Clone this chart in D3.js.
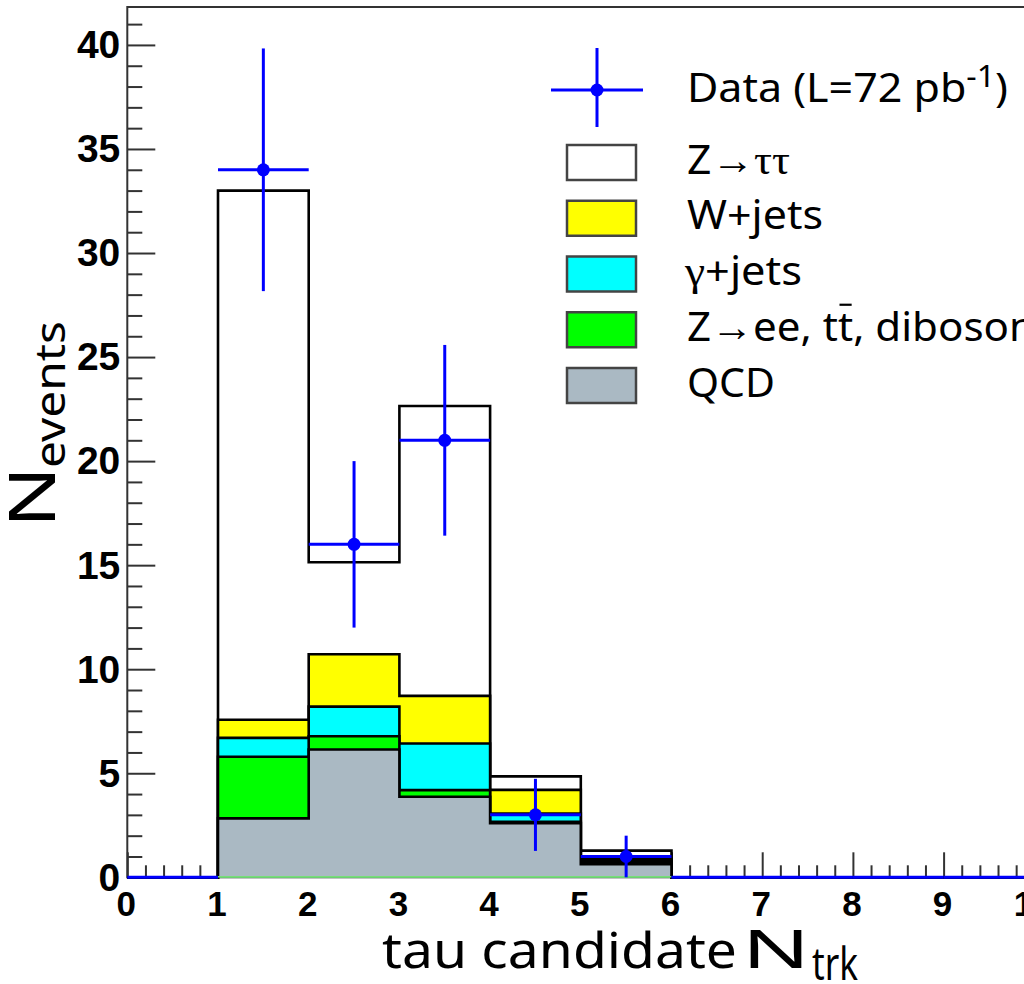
<!DOCTYPE html>
<html>
<head>
<meta charset="utf-8">
<script src="https://cdn.jsdelivr.net/npm/d3@7/dist/d3.min.js"></script>
<style>
  html, body { margin: 0; padding: 0; background: #fff; overflow: hidden; }
  svg { display: block; }
</style>
</head>
<body>
<svg id="chart" width="1024" height="984"></svg>
<script>
// ---- data: tau candidate track multiplicity, bins of width 1 from 0 to 10 ----
const binEdges = [0, 1, 2, 3, 4, 5, 6, 7, 8, 9, 10];
const qcd             = [0, 2.83, 6.14, 3.87, 2.60, 0.63, 0, 0, 0, 0];
const zeeTtbarDiboson = [0, 2.96, 0.64, 0.32, 0.07, 0.06, 0, 0, 0, 0];
const gammaJets       = [0, 0.91, 1.42, 2.24, 0.39, 0.08, 0, 0, 0, 0];
const wJets           = [0, 0.87, 2.52, 2.29, 1.14, 0.11, 0, 0, 0, 0];
const zTauTau         = [0, 25.43, 4.42, 13.93, 0.65, 0.40, 0, 0, 0, 0];
const dataCounts      = [0, 34, 16, 21, 3, 1, 0, 0, 0, 0];

const xTickLabels = [0, 1, 2, 3, 4, 5, 6, 7, 8, 9, 10];
const yTickLabels = [0, 5, 10, 15, 20, 25, 30, 35, 40];

// stacking order, bottom to top
const processKeys = ["qcd", "other", "gamma", "wjets", "ztt"];
const processColors = {
  qcd: "#aab9c3",
  other: "#00ff00",
  gamma: "#00ffff",
  wjets: "#ffff00",
  ztt: "#ffffff"
};

const rows = binEdges.slice(0, -1).map((lo, i) => ({
  lo: lo, hi: binEdges[i + 1],
  qcd: qcd[i], other: zeeTtbarDiboson[i], gamma: gammaJets[i],
  wjets: wJets[i], ztt: zTauTau[i], data: dataCounts[i]
}));

// y range: 5% headroom above the highest data error bar
const yMax = d3.max(rows, r => r.data + Math.sqrt(r.data)) * 1.05;

const svg = d3.select("#chart");
const x = d3.scaleLinear().domain([0, 10]).range([127.3, 1034.3]);
const y = d3.scaleLinear().domain([0, yMax]).range([877.3, 7]);

const AXIS_FONT = "'Liberation Sans', Arial, Helvetica, sans-serif";
const TEXT_FONT = "'Noto Sans', 'Open Sans', sans-serif";
const GREEK_FONT = "'Liberation Serif', 'DejaVu Serif', serif";

// ---- frame ----
svg.append("rect")
  .attr("x", x(0)).attr("y", y(yMax))
  .attr("width", x(10) - x(0)).attr("height", y(0) - y(yMax))
  .attr("fill", "none").attr("stroke", "#333").attr("stroke-width", 2);

// ---- axes (ticks point into the frame) ----
const yMinor = d3.range(0, Math.floor(yMax) + 1, 1).filter(v => v % 5 !== 0);
const xMinor = d3.range(0, 10.001, 0.2).map(v => +v.toFixed(1)).filter(v => Math.abs(v - Math.round(v)) > 1e-6);

function styleAxis(g, fontSize) {
  g.select(".domain").remove();
  g.selectAll(".tick line").attr("stroke", "#333").attr("stroke-width", 2);
  g.selectAll(".tick text")
    .attr("fill", "#000")
    .attr("font-family", AXIS_FONT)
    .attr("font-weight", "bold")
    .attr("font-size", fontSize);
}

svg.append("g")
  .attr("transform", `translate(${x(0)},0)`)
  .call(d3.axisLeft(y).tickValues(yMinor).tickSizeInner(-15).tickSizeOuter(0).tickFormat(""))
  .call(g => styleAxis(g, 39));

svg.append("g")
  .attr("transform", `translate(${x(0)},0)`)
  .call(d3.axisLeft(y).tickValues(yTickLabels).tickSizeInner(-28).tickSizeOuter(0).tickPadding(7).tickFormat(d3.format("d")))
  .call(g => styleAxis(g, 39))
  .call(g => g.selectAll(".tick text").attr("dy", "0.33em"));

svg.append("g")
  .attr("transform", `translate(0,${y(0)})`)
  .call(d3.axisBottom(x).tickValues(xMinor).tickSizeInner(-12).tickSizeOuter(0).tickFormat(""))
  .call(g => styleAxis(g, 35));

svg.append("g")
  .attr("transform", `translate(0,${y(0)})`)
  .call(d3.axisBottom(x).tickValues(xTickLabels).tickSizeInner(-25).tickSizeOuter(0).tickPadding(14).tickFormat(d3.format("d")))
  .call(g => styleAxis(g, 35))
  .call(g => g.selectAll(".tick text").attr("dx", -1.5));

// ---- stacked histograms ----
const series = d3.stack().keys(processKeys)(rows);

function stepPoints(layer) {
  const pts = [];
  layer.forEach(d => {
    pts.push({ xv: d.data.lo, y1: d[1] });
    pts.push({ xv: d.data.hi, y1: d[1] });
  });
  return pts;
}
const area = d3.area().x(p => x(p.xv)).y0(y(0)).y1(p => y(p.y1));
const line = d3.line().x(p => x(p.xv)).y(p => y(p.y1));

const histG = svg.append("g");
// the cumulative totals are drawn from the top of the stack downwards
series.slice().reverse().forEach(layer => {
  const pts = stepPoints(layer);
  histG.append("path").attr("d", area(pts))
    .attr("fill", processColors[layer.key]).attr("stroke", "none");
  histG.append("path").attr("d", line(pts))
    .attr("fill", "none").attr("stroke", "#000")
    .attr("stroke-width", 2.6).attr("stroke-linejoin", "miter");
});

// thin baseline under the filled bins
const filled = rows.filter(r => processKeys.some(k => r[k] > 0));
histG.append("line")
  .attr("x1", x(d3.min(filled, r => r.lo))).attr("x2", x(d3.max(filled, r => r.hi)))
  .attr("y1", y(0) - 0.5).attr("y2", y(0) - 0.5)
  .attr("stroke", "#77dd77").attr("stroke-width", 1.5);

// ---- data points with Poisson errors ----
const BLUE = "#0000ff";
const dataG = svg.append("g");
rows.forEach(r => {
  dataG.append("line")
    .attr("x1", x(r.lo)).attr("x2", x(r.hi))
    .attr("y1", y(r.data)).attr("y2", y(r.data))
    .attr("stroke", BLUE).attr("stroke-width", 3);
  if (r.data > 0) {
    const err = Math.sqrt(r.data);
    const xc = x((r.lo + r.hi) / 2);
    dataG.append("line")
      .attr("x1", xc).attr("x2", xc)
      .attr("y1", y(Math.max(0, r.data - err))).attr("y2", y(r.data + err))
      .attr("stroke", BLUE).attr("stroke-width", 3);
    dataG.append("circle").attr("cx", xc).attr("cy", y(r.data)).attr("r", 6.5).attr("fill", BLUE);
  }
});

// ---- axis titles ----
svg.append("text")
  .attr("x", 382).attr("y", 968)
  .attr("font-family", TEXT_FONT).attr("font-size", 50)
  .attr("textLength", 355).attr("lengthAdjust", "spacingAndGlyphs")
  .text("tau candidate");
svg.append("text")
  .attr("x", 742).attr("y", 968)
  .attr("font-family", TEXT_FONT).attr("font-size", 53)
  .attr("textLength", 68).attr("lengthAdjust", "spacingAndGlyphs")
  .text("N");
svg.append("text")
  .attr("x", 812).attr("y", 980)
  .attr("font-family", TEXT_FONT).attr("font-size", 46)
  .attr("textLength", 46).attr("lengthAdjust", "spacingAndGlyphs")
  .text("trk");

svg.append("text")
  .attr("transform", "translate(55,528) rotate(-90)")
  .attr("font-family", TEXT_FONT).attr("font-size", 63)
  .attr("textLength", 62).attr("lengthAdjust", "spacingAndGlyphs")
  .text("N");
svg.append("text")
  .attr("transform", "translate(65,468) rotate(-90)")
  .attr("font-family", TEXT_FONT).attr("font-size", 42)
  .attr("textLength", 147).attr("lengthAdjust", "spacingAndGlyphs")
  .text("events");

// ---- legend ----
const legendG = svg.append("g").attr("font-family", TEXT_FONT).attr("font-size", 40);
const LEG_TEXT_X = 687;

// data entry
legendG.append("line").attr("x1", 551).attr("x2", 643).attr("y1", 90).attr("y2", 90)
  .attr("stroke", BLUE).attr("stroke-width", 3);
legendG.append("line").attr("x1", 597).attr("x2", 597).attr("y1", 48).attr("y2", 127)
  .attr("stroke", BLUE).attr("stroke-width", 3);
legendG.append("circle").attr("cx", 597).attr("cy", 90).attr("r", 6.5).attr("fill", BLUE);
const dataLabel = legendG.append("text").attr("x", LEG_TEXT_X).attr("y", 102)
  .attr("textLength", 321).attr("lengthAdjust", "spacingAndGlyphs");
dataLabel.append("tspan").text("Data (L=72 pb");
dataLabel.append("tspan").attr("dy", -15).attr("font-size", 30).text("-1");
dataLabel.append("tspan").attr("dy", 15).text(")");

// process entries, listed from the top of the stack
const legendEntries = [
  { key: "ztt",   width: 103, parts: [["Z", null], ["\u2192", null], ["\u03c4\u03c4", "greek"]] },
  { key: "wjets", width: 136, parts: [["W+jets", null]] },
  { key: "gamma", width: 117, parts: [["\u03b3", "greek"], ["+jets", null]] },
  { key: "other", width: 348, parts: [["Z", null], ["\u2192", null], ["ee, t", null], ["t", "bar"], [", diboson", null]] },
  { key: "qcd",   width: 88,  parts: [["QCD", null]] }
];

legendEntries.forEach((e, i) => {
  const top = 145 + i * 55.75;
  const baseline = top + 17.5 + 11;
  legendG.append("rect")
    .attr("x", 567).attr("y", top).attr("width", 69).attr("height", 35)
    .attr("fill", processColors[e.key]).attr("stroke", "#444").attr("stroke-width", 2.5);
  const t = legendG.append("text")
    .attr("x", e.key === "gamma" ? LEG_TEXT_X - 2 : LEG_TEXT_X).attr("y", baseline)
    .attr("textLength", e.width).attr("lengthAdjust", "spacingAndGlyphs");
  let charIndex = 0;
  const barred = [];
  e.parts.forEach(([s, kind]) => {
    const ts = t.append("tspan").text(s);
    if (kind === "greek") ts.attr("font-family", GREEK_FONT).attr("font-size", 42);
    if (kind === "bar") barred.push(charIndex);
    charIndex += s.length;
  });
  // anti-particle bar over the marked character
  barred.forEach(ci => {
    const ext = t.node().getExtentOfChar(ci);
    legendG.append("line")
      .attr("x1", ext.x + ext.width * 0.1).attr("x2", ext.x + ext.width * 0.9)
      .attr("y1", baseline - 36).attr("y2", baseline - 36)
      .attr("stroke", "#000").attr("stroke-width", 2.2);
  });
});
</script>
</body>
</html>
